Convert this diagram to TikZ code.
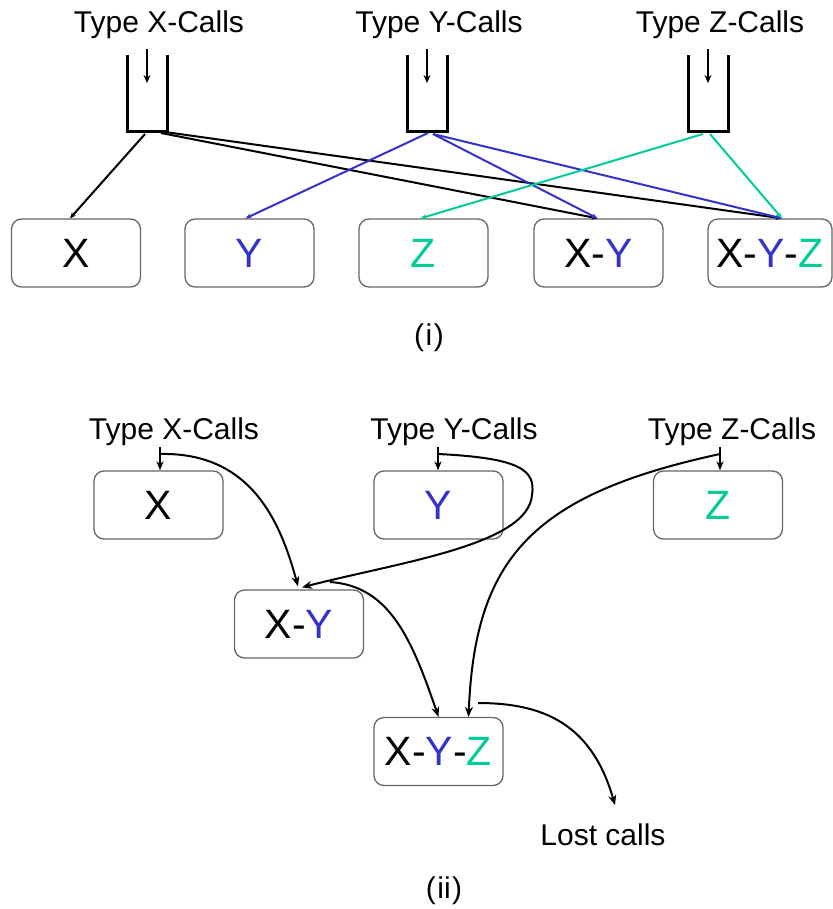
\documentclass[tikz,border=0pt]{standalone}
\usepackage{fontspec}
\setmainfont{Liberation Sans}
\usetikzlibrary{arrows.meta,calc}
\definecolor{callblue}{RGB}{51,51,204}
\definecolor{callgreen}{RGB}{0,204,153}
\begin{document}
\begin{tikzpicture}[x=1pt,y=-1pt,
  label text/.style={font=\fontsize{30}{36}\selectfont, inner sep=0pt, anchor=base},
  pool/.style={draw=black!60, line width=1.3pt, rounded corners=10pt,
    minimum width=129pt, minimum height=68pt, inner sep=0pt,
    font=\fontsize{41}{48}\selectfont},
  queuewall/.style={line width=3pt, line join=miter},
  inflow/.style={line width=1.6pt, -{Stealth[length=8pt,width=7pt]}},
  route/.style={line width=2pt, -{Stealth[length=6pt,width=5pt]}},
  flow/.style={line width=2pt, -{Stealth[length=10pt,width=8pt]}},
  tick/.style={line width=1.7pt, -{Stealth[length=9pt,width=7pt]}}]
\useasboundingbox (0,0) rectangle (832,909);

% ---------- (i) separate queues feeding the server groups ----------
\foreach \n/\x in {X/147,Y/427,Z/708}{
  \node[label text] (t\n) at (\x+12,33) {Type \n-Calls};
  \draw[queuewall] (\x-20,55) |- (\x+20,132) -- (\x+20,55);
  \coordinate (qin\n) at (\x,49);
  \coordinate (qtip\n) at (\x,83);
  \coordinate (q\n) at (\x,133);
  \draw[inflow] (qin\n) -- (qtip\n);
}

\node[pool] (aX)   at (76,253)    {X};
\node[pool] (aY)   at (249.5,253) {\textcolor{callblue}{Y}};
\node[pool] (aZ)   at (423.5,253) {\textcolor{callgreen}{Z}};
\node[pool] (aXY)  at (598.5,253) {X-\textcolor{callblue}{Y}};
\node[pool, minimum width=124pt] (aXYZ) at (770,253)
  {X-\textcolor{callblue}{Y}-\textcolor{callgreen}{Z}};

\draw[route] ($(qX)+(-2,1)$) -- ($(aX.north)+(-6,0)$);
\draw[route] ($(qX)+(14,0)$) -- ($(aXY.north)+(-1,0)$);
\draw[route] ($(qX)+(18,-1)$) -- ($(aXYZ.north)+(12,0)$);
\draw[route, callblue] ($(qY)+(1,0)$) -- ($(aY.north)+(-4,0)$);
\draw[route, callblue] ($(qY)+(6,1)$) -- ($(aXY.north)+(-1,0)$);
\draw[route, callblue] ($(qY)+(6,1)$) -- ($(aXYZ.north)+(12,0)$);
\draw[route, callgreen] ($(qZ)+(-5,1)$) -- ($(aZ.north)+(-3,0)$);
\draw[route, callgreen] ($(qZ)+(2,1)$) -- ($(aXYZ.north)+(12,0)$);

\node[label text] (capI) at (429,345) {(\kern1.5pt i\kern1.5pt)};

% ---------- (ii) overflow routing between server groups ----------
\node[label text] (sX) at (174,439) {Type X-Calls};
\node[label text] (sY) at (454,439) {Type Y-Calls};
\node[label text] (sZ) at (732,439) {Type Z-Calls};

\node[pool] (bX)   at (158.5,505) {X};
\node[pool] (bY)   at (438.5,505) {\textcolor{callblue}{Y}};
\node[pool] (bZ)   at (718,505)   {\textcolor{callgreen}{Z}};
\node[pool] (bXY)  at (299,624)   {X-\textcolor{callblue}{Y}};
\node[pool] (bXYZ) at (438.5,751.5)
  {X-\textcolor{callblue}{Y}-\textcolor{callgreen}{Z}};

\coordinate (dX) at (160,447);
\coordinate (dY) at (438,447);
\coordinate (dZ) at (720,447);
\draw[tick] (dX) -- (dX |- bX.north);
\draw[tick] (dY) -- (dY |- bY.north);
\draw[tick] (dZ) -- (dZ |- bZ.north);

\coordinate (tapX) at (160,454);
\coordinate (tapY) at (438,454);
\coordinate (tapZ) at (720,454);
\coordinate (xyOut) at (330,582);
\coordinate (xyzOut) at (478,703);

\draw[flow] (tapX) .. controls (250,452) and (280,520) .. ($(bXY.north)+(-1,-3)$);
\draw[flow] (tapY) .. controls (520,458) and (536,470) .. (532,495)
  .. controls (528,545) and (400,562) .. ($(bXY.north)+(3,-2)$);
\draw[flow] (tapZ) .. controls (530,495) and (475,560) .. ($(bXYZ.north)+(30,0)$);
\draw[flow] (xyOut) .. controls (390,586) and (412,640) .. (bXYZ.north);

\node[label text] (lost) at (603,845) {Lost calls};
\draw[flow] (xyzOut) .. controls (545,703) and (592,725) .. ($(lost.north)+(12,-18)$);

\node[label text] (capII) at (444,898) {(\kern1.5pt ii\kern1.5pt)};
\end{tikzpicture}
\end{document}
